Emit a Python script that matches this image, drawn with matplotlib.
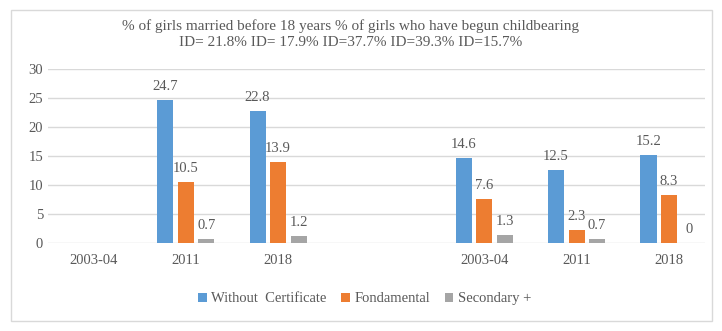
import matplotlib.pyplot as plt
import numpy as np
from matplotlib.patches import Rectangle

plt.rcParams['font.family'] = ['Liberation Serif', 'DejaVu Serif']

# valeurs
annees = ['2003-04', '2011', '2018', '2003-04', '2011', '2018']
sans_certificat = [np.nan, 24.7, 22.8, 14.6, 12.5, 15.2]
fondamental = [np.nan, 10.5, 13.9, 7.6, 2.3, 8.3]
secondaire = [np.nan, 0.7, 1.2, 1.3, 0.7, 0]
series = ['Without  Certificate', 'Fondamental', 'Secondary +']

couleurs = ['#5B9BD5', '#ED7D31', '#A5A5A5']
texte = '#595959'

# deux blocs de trois categories, avec un ecart entre les deux
pos = np.array([0, 1, 2, 4.23, 5.23, 6.23])

fig = plt.figure(figsize=(7.22, 3.31), dpi=100)
ax = fig.add_axes([0.0665, 0.266, 0.91, 0.526])

larg = 0.175
pas = 0.222
for i, (vals, nom) in enumerate(zip([sans_certificat, fondamental, secondaire], series)):
    x = pos + (i - 1) * pas
    ax.bar(x, vals, larg, color=couleurs[i], label=nom, zorder=3)
    for xi, v in zip(x, vals):
        if np.isnan(v):
            continue
        ax.annotate('{:g}'.format(v), (xi, v), xytext=(0, 5), textcoords='offset points',
                    ha='center', va='bottom', fontsize=10.5, color=texte)

ax.set_ylim(0, 30)
ax.set_yticks(range(0, 31, 5))
ax.set_xlim(-0.49, 6.62)
ax.set_xticks(pos)
ax.set_xticklabels(annees)
ax.tick_params(length=0, labelsize=10.5, colors=texte)
ax.tick_params(axis='x', pad=8)
ax.grid(axis='y', color='#D9D9D9', linewidth=1, zorder=0)
for s in ax.spines.values():
    s.set_visible(False)

fig.text(0.485, 0.922, '% of girls married before 18 years % of girls who have begun childbearing',
         ha='center', va='center', fontsize=11, color=texte)
fig.text(0.485, 0.873, 'ID= 21.8% ID= 17.9% ID=37.7% ID=39.3% ID=15.7%',
         ha='center', va='center', fontsize=11, color=texte)

fig.legend(loc='center', bbox_to_anchor=(0.505, 0.097), ncol=3, frameon=False,
           handlelength=0.6, handleheight=0.6, handletextpad=0.3, columnspacing=1.0,
           fontsize=10.5, labelcolor=texte)

# cadre gris autour de la figure
fig.patches.append(Rectangle((0.015, 0.03), 0.971, 0.94, transform=fig.transFigure,
                             fill=False, edgecolor='#D9D9D9', linewidth=1))

fig.savefig('out.png', dpi=100)
